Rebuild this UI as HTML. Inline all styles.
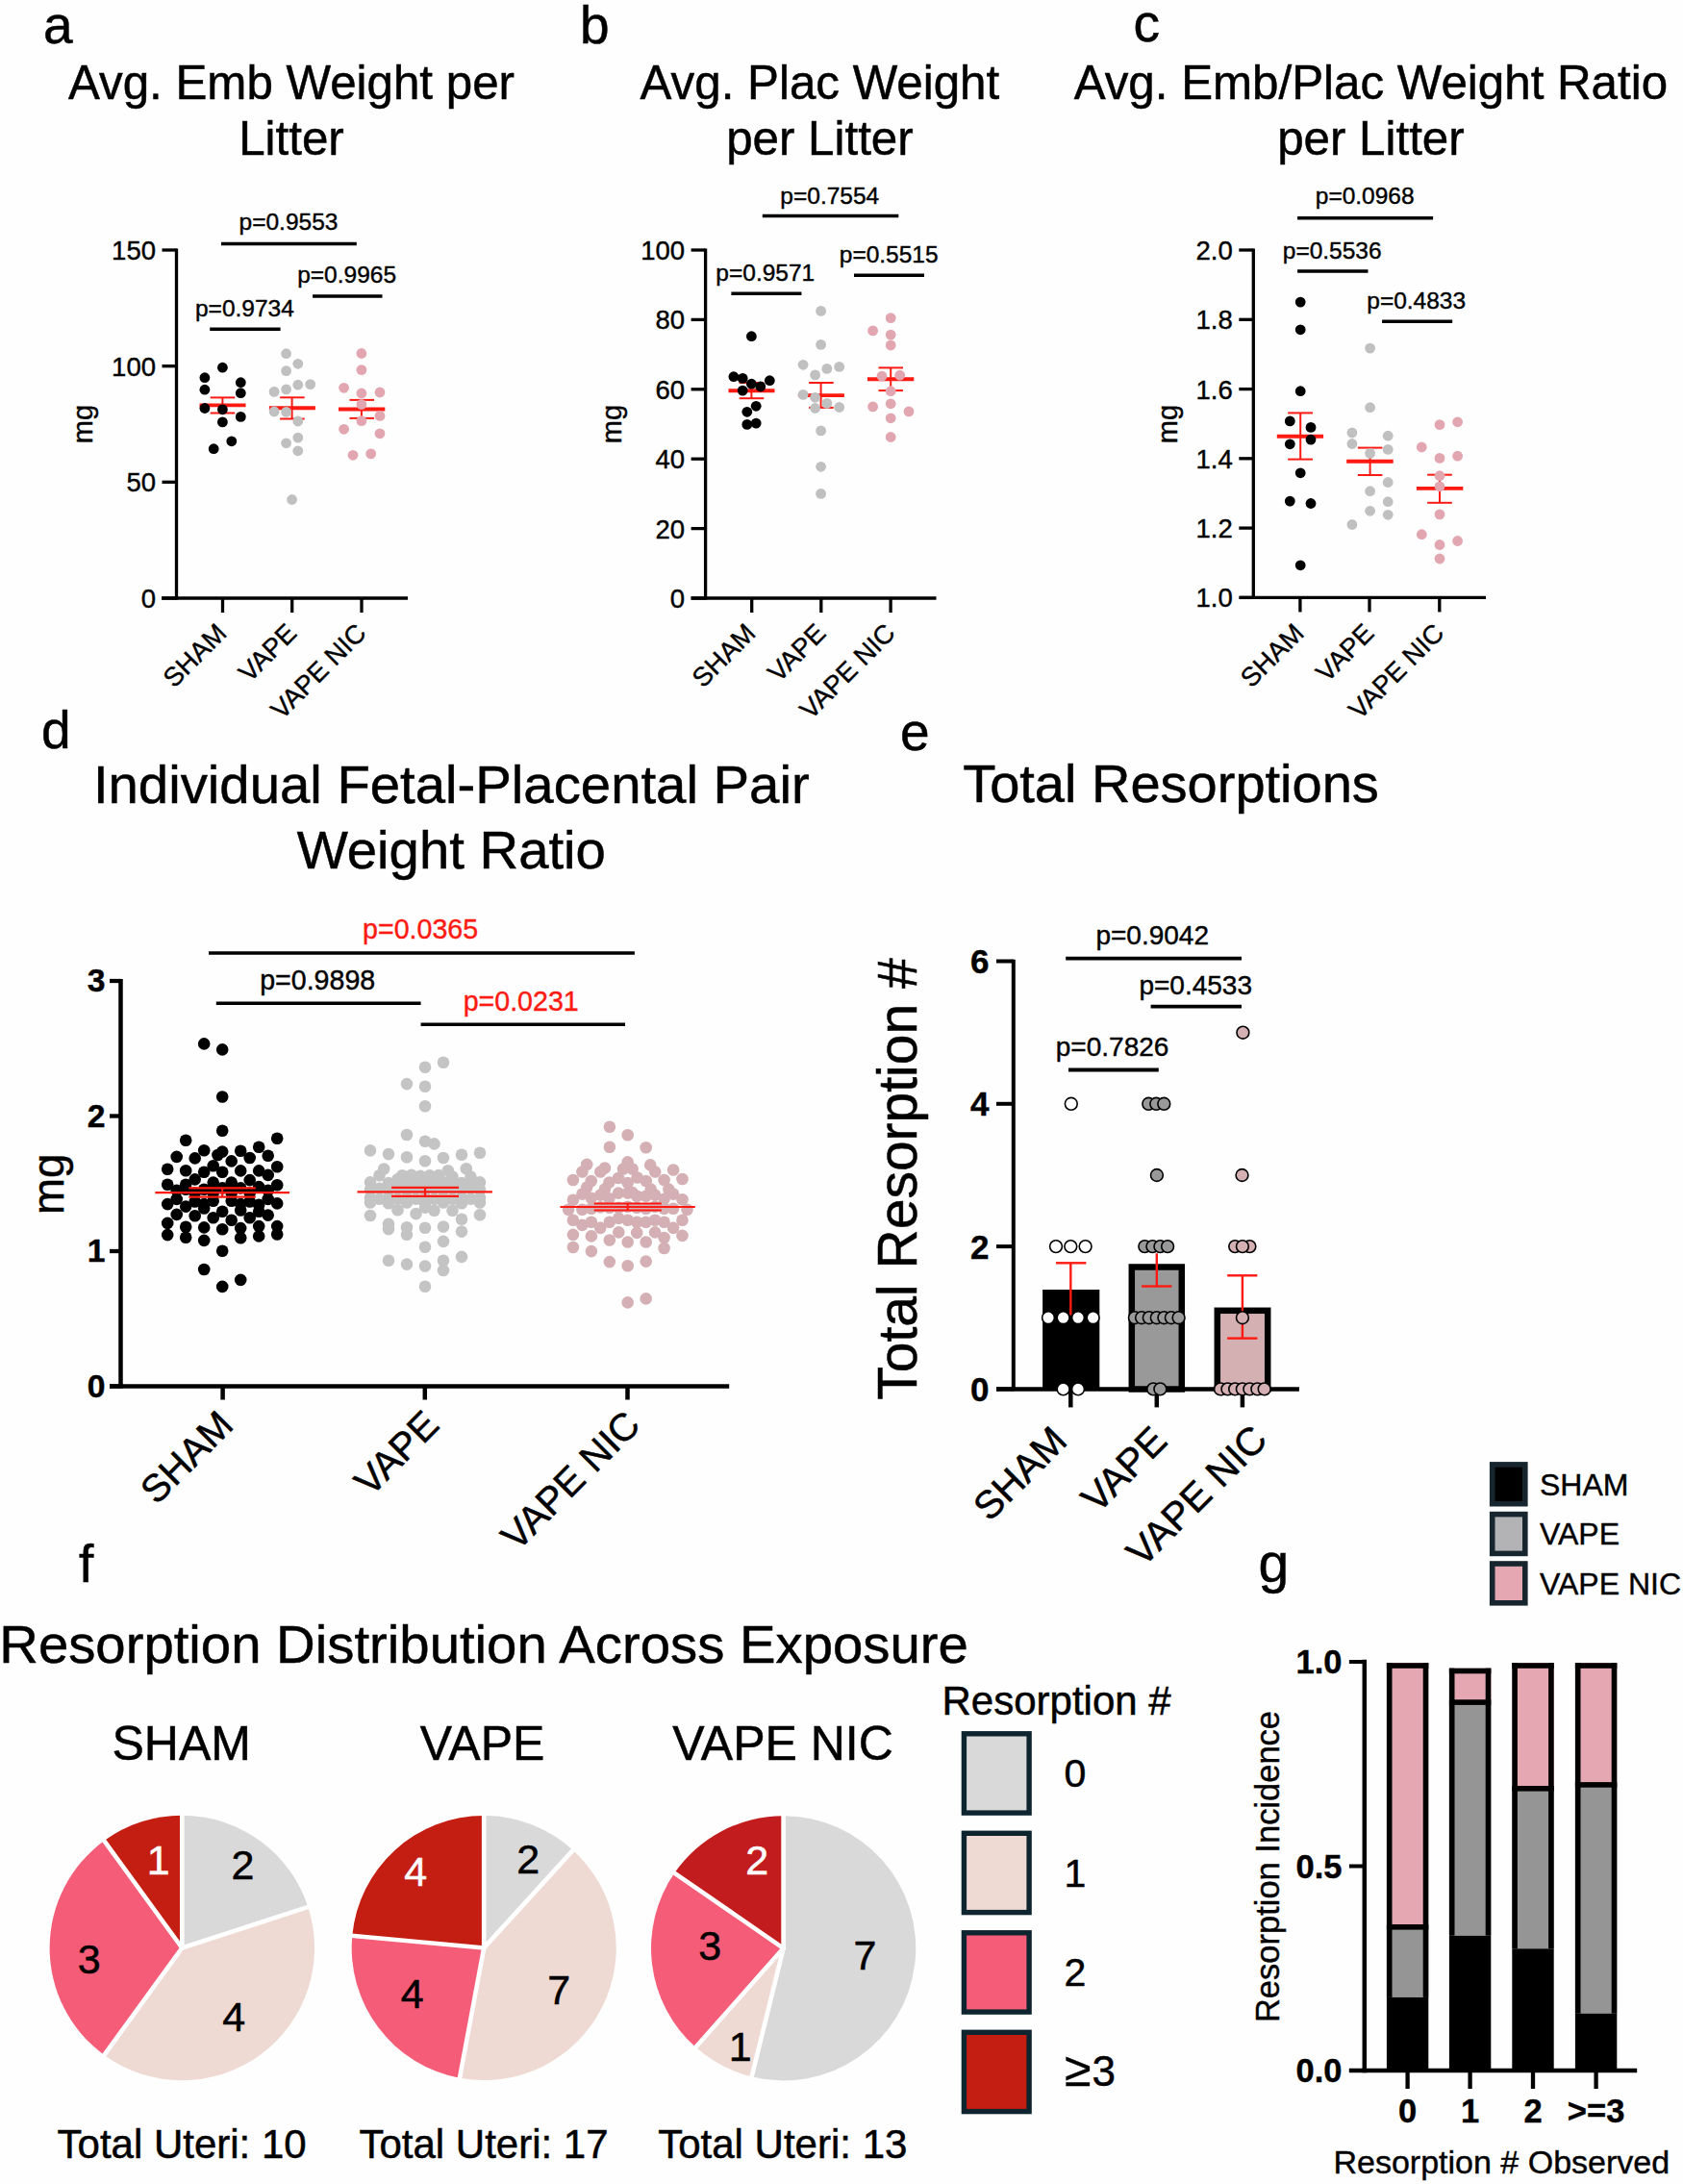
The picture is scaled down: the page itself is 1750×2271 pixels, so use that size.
<!DOCTYPE html>
<html><head><meta charset="utf-8"><title>Figure</title>
<style>
html,body{margin:0;padding:0;background:#fff;}
svg{display:block;}
text{font-family:"Liberation Sans", Arial, sans-serif;}
</style></head>
<body>
<svg width="1750" height="2271" viewBox="0 0 1750 2271">
<rect width="1750" height="2271" fill="#fefefe"/>
<text x="45.0" y="44.6" font-size="55" text-anchor="start" fill="#000" stroke="#000" stroke-width="0.5" >a</text>
<text x="603.0" y="44.6" font-size="55" text-anchor="start" fill="#000" stroke="#000" stroke-width="0.5" >b</text>
<text x="1178.5" y="43.3" font-size="55" text-anchor="start" fill="#000" stroke="#000" stroke-width="0.5" >c</text>
<text x="43.0" y="778.0" font-size="55" text-anchor="start" fill="#000" stroke="#000" stroke-width="0.5" >d</text>
<text x="936.0" y="780.0" font-size="55" text-anchor="start" fill="#000" stroke="#000" stroke-width="0.5" >e</text>
<text x="82.0" y="1645.0" font-size="55" text-anchor="start" fill="#000" stroke="#000" stroke-width="0.5" >f</text>
<text x="1308.5" y="1645.0" font-size="57" text-anchor="start" fill="#000" stroke="#000" stroke-width="0.5" >g</text>
<text x="303.0" y="103.0" font-size="49.3" text-anchor="middle" fill="#000" stroke="#000" stroke-width="0.5" >Avg. Emb Weight per</text>
<text x="303.0" y="161.0" font-size="49.3" text-anchor="middle" fill="#000" stroke="#000" stroke-width="0.5" >Litter</text>
<line x1="183.5" y1="258.4" x2="183.5" y2="623.6" stroke="#000" stroke-width="3.3" stroke-linecap="butt"/>
<line x1="168.0" y1="622.0" x2="424.0" y2="622.0" stroke="#000" stroke-width="3.3" stroke-linecap="butt"/>
<line x1="168.5" y1="260.0" x2="183.5" y2="260.0" stroke="#000" stroke-width="3.3" stroke-linecap="butt"/>
<text x="162.0" y="269.9" font-size="27.5" text-anchor="end" fill="#000" stroke="#000" stroke-width="0.4" >150</text>
<line x1="168.5" y1="380.7" x2="183.5" y2="380.7" stroke="#000" stroke-width="3.3" stroke-linecap="butt"/>
<text x="162.0" y="390.6" font-size="27.5" text-anchor="end" fill="#000" stroke="#000" stroke-width="0.4" >100</text>
<line x1="168.5" y1="501.3" x2="183.5" y2="501.3" stroke="#000" stroke-width="3.3" stroke-linecap="butt"/>
<text x="162.0" y="511.2" font-size="27.5" text-anchor="end" fill="#000" stroke="#000" stroke-width="0.4" >50</text>
<line x1="168.5" y1="622.0" x2="183.5" y2="622.0" stroke="#000" stroke-width="3.3" stroke-linecap="butt"/>
<text x="162.0" y="631.9" font-size="27.5" text-anchor="end" fill="#000" stroke="#000" stroke-width="0.4" >0</text>
<line x1="231.5" y1="622.0" x2="231.5" y2="637.0" stroke="#000" stroke-width="3.3" stroke-linecap="butt"/>
<line x1="303.7" y1="622.0" x2="303.7" y2="637.0" stroke="#000" stroke-width="3.3" stroke-linecap="butt"/>
<line x1="376.0" y1="622.0" x2="376.0" y2="637.0" stroke="#000" stroke-width="3.3" stroke-linecap="butt"/>
<text x="95.6" y="441" font-size="29" text-anchor="middle" stroke="#000" stroke-width="0.4" transform="rotate(-90 95.6 441)">mg</text>
<line x1="207.5" y1="421.4" x2="255.5" y2="421.4" stroke="#fc1a12" stroke-width="3.9" stroke-linecap="butt"/>
<line x1="231.4" y1="413.4" x2="231.4" y2="429.5" stroke="#fc1a12" stroke-width="2.0" stroke-linecap="butt"/>
<line x1="218.7" y1="413.4" x2="244.3" y2="413.4" stroke="#fc1a12" stroke-width="2.0" stroke-linecap="butt"/>
<line x1="218.7" y1="429.5" x2="244.3" y2="429.5" stroke="#fc1a12" stroke-width="2.0" stroke-linecap="butt"/>
<circle cx="231.4" cy="382.2" r="5.4" fill="#000"/>
<circle cx="212.9" cy="392.7" r="5.4" fill="#000"/>
<circle cx="250.3" cy="397.7" r="5.4" fill="#000"/>
<circle cx="212.9" cy="405.2" r="5.4" fill="#000"/>
<circle cx="250.3" cy="408.7" r="5.4" fill="#000"/>
<circle cx="212.9" cy="424.5" r="5.4" fill="#000"/>
<circle cx="231.4" cy="425.8" r="5.4" fill="#000"/>
<circle cx="250.3" cy="433.4" r="5.4" fill="#000"/>
<circle cx="231.4" cy="438.9" r="5.4" fill="#000"/>
<circle cx="240.8" cy="458.8" r="5.4" fill="#000"/>
<circle cx="222.2" cy="466.7" r="5.4" fill="#000"/>
<line x1="279.9" y1="424.3" x2="327.9" y2="424.3" stroke="#fc1a12" stroke-width="3.9" stroke-linecap="butt"/>
<line x1="303.6" y1="413.3" x2="303.6" y2="435.5" stroke="#fc1a12" stroke-width="2.0" stroke-linecap="butt"/>
<line x1="291.1" y1="413.3" x2="316.7" y2="413.3" stroke="#fc1a12" stroke-width="2.0" stroke-linecap="butt"/>
<line x1="291.1" y1="435.5" x2="316.7" y2="435.5" stroke="#fc1a12" stroke-width="2.0" stroke-linecap="butt"/>
<circle cx="297.6" cy="367.7" r="5.4" fill="#c0c0c0"/>
<circle cx="309.8" cy="378.3" r="5.4" fill="#c0c0c0"/>
<circle cx="297.6" cy="385.6" r="5.4" fill="#c0c0c0"/>
<circle cx="309.8" cy="400.2" r="5.4" fill="#c0c0c0"/>
<circle cx="322.7" cy="399.6" r="5.4" fill="#c0c0c0"/>
<circle cx="297.6" cy="404.9" r="5.4" fill="#c0c0c0"/>
<circle cx="285.1" cy="407.4" r="5.4" fill="#c0c0c0"/>
<circle cx="285.1" cy="428.0" r="5.4" fill="#c0c0c0"/>
<circle cx="297.6" cy="428.4" r="5.4" fill="#c0c0c0"/>
<circle cx="309.8" cy="438.0" r="5.4" fill="#c0c0c0"/>
<circle cx="309.8" cy="455.1" r="5.4" fill="#c0c0c0"/>
<circle cx="297.6" cy="460.8" r="5.4" fill="#c0c0c0"/>
<circle cx="309.8" cy="468.8" r="5.4" fill="#c0c0c0"/>
<circle cx="303.6" cy="519.5" r="5.4" fill="#c0c0c0"/>
<line x1="352.0" y1="425.5" x2="400.3" y2="425.5" stroke="#fc1a12" stroke-width="3.9" stroke-linecap="butt"/>
<line x1="375.9" y1="415.9" x2="375.9" y2="434.9" stroke="#fc1a12" stroke-width="2.0" stroke-linecap="butt"/>
<line x1="363.5" y1="415.9" x2="389.0" y2="415.9" stroke="#fc1a12" stroke-width="2.0" stroke-linecap="butt"/>
<line x1="363.5" y1="434.9" x2="389.0" y2="434.9" stroke="#fc1a12" stroke-width="2.0" stroke-linecap="butt"/>
<circle cx="375.9" cy="367.5" r="5.4" fill="#e2a6b1"/>
<circle cx="375.9" cy="384.6" r="5.4" fill="#e2a6b1"/>
<circle cx="357.6" cy="403.3" r="5.4" fill="#e2a6b1"/>
<circle cx="375.9" cy="409.0" r="5.4" fill="#e2a6b1"/>
<circle cx="395.0" cy="408.0" r="5.4" fill="#e2a6b1"/>
<circle cx="375.9" cy="420.5" r="5.4" fill="#e2a6b1"/>
<circle cx="395.0" cy="432.4" r="5.4" fill="#e2a6b1"/>
<circle cx="375.9" cy="437.6" r="5.4" fill="#e2a6b1"/>
<circle cx="357.6" cy="446.3" r="5.4" fill="#e2a6b1"/>
<circle cx="395.0" cy="450.8" r="5.4" fill="#e2a6b1"/>
<circle cx="367.0" cy="473.3" r="5.4" fill="#e2a6b1"/>
<circle cx="385.7" cy="471.9" r="5.4" fill="#e2a6b1"/>
<text x="300.0" y="238.9" font-size="24.5" text-anchor="middle" fill="#000" stroke="#000" stroke-width="0.4" >p=0.9553</text>
<line x1="230.0" y1="253.5" x2="370.8" y2="253.5" stroke="#000" stroke-width="3.5" stroke-linecap="butt"/>
<text x="360.6" y="294.0" font-size="24.5" text-anchor="middle" fill="#000" stroke="#000" stroke-width="0.4" >p=0.9965</text>
<line x1="325.1" y1="308.0" x2="397.5" y2="308.0" stroke="#000" stroke-width="3.5" stroke-linecap="butt"/>
<text x="254.4" y="328.7" font-size="24.5" text-anchor="middle" fill="#000" stroke="#000" stroke-width="0.4" >p=0.9734</text>
<line x1="218.2" y1="342.2" x2="291.6" y2="342.2" stroke="#000" stroke-width="3.5" stroke-linecap="butt"/>
<text x="237.1" y="660.0" font-size="27.5" text-anchor="end" stroke="#000" stroke-width="0.4" transform="rotate(-45 237.1 660.0)">SHAM</text>
<text x="310.0" y="660.0" font-size="27.5" text-anchor="end" stroke="#000" stroke-width="0.4" transform="rotate(-45 310.0 660.0)">VAPE</text>
<text x="382.3" y="660.0" font-size="27.5" text-anchor="end" stroke="#000" stroke-width="0.4" transform="rotate(-45 382.3 660.0)">VAPE NIC</text>
<text x="852.4" y="103.0" font-size="49.3" text-anchor="middle" fill="#000" stroke="#000" stroke-width="0.5" >Avg. Plac Weight</text>
<text x="852.4" y="161.0" font-size="49.3" text-anchor="middle" fill="#000" stroke="#000" stroke-width="0.5" >per Litter</text>
<line x1="733.6" y1="258.4" x2="733.6" y2="623.6" stroke="#000" stroke-width="3.3" stroke-linecap="butt"/>
<line x1="718.6" y1="622.0" x2="973.5" y2="622.0" stroke="#000" stroke-width="3.3" stroke-linecap="butt"/>
<line x1="718.6" y1="260.0" x2="733.6" y2="260.0" stroke="#000" stroke-width="3.3" stroke-linecap="butt"/>
<text x="712.1" y="269.9" font-size="27.5" text-anchor="end" fill="#000" stroke="#000" stroke-width="0.4" >100</text>
<line x1="718.6" y1="332.4" x2="733.6" y2="332.4" stroke="#000" stroke-width="3.3" stroke-linecap="butt"/>
<text x="712.1" y="342.2" font-size="27.5" text-anchor="end" fill="#000" stroke="#000" stroke-width="0.4" >80</text>
<line x1="718.6" y1="404.8" x2="733.6" y2="404.8" stroke="#000" stroke-width="3.3" stroke-linecap="butt"/>
<text x="712.1" y="414.7" font-size="27.5" text-anchor="end" fill="#000" stroke="#000" stroke-width="0.4" >60</text>
<line x1="718.6" y1="477.2" x2="733.6" y2="477.2" stroke="#000" stroke-width="3.3" stroke-linecap="butt"/>
<text x="712.1" y="487.1" font-size="27.5" text-anchor="end" fill="#000" stroke="#000" stroke-width="0.4" >40</text>
<line x1="718.6" y1="549.6" x2="733.6" y2="549.6" stroke="#000" stroke-width="3.3" stroke-linecap="butt"/>
<text x="712.1" y="559.5" font-size="27.5" text-anchor="end" fill="#000" stroke="#000" stroke-width="0.4" >20</text>
<line x1="718.6" y1="622.0" x2="733.6" y2="622.0" stroke="#000" stroke-width="3.3" stroke-linecap="butt"/>
<text x="712.1" y="631.9" font-size="27.5" text-anchor="end" fill="#000" stroke="#000" stroke-width="0.4" >0</text>
<line x1="781.7" y1="622.0" x2="781.7" y2="637.0" stroke="#000" stroke-width="3.3" stroke-linecap="butt"/>
<line x1="853.8" y1="622.0" x2="853.8" y2="637.0" stroke="#000" stroke-width="3.3" stroke-linecap="butt"/>
<line x1="926.1" y1="622.0" x2="926.1" y2="637.0" stroke="#000" stroke-width="3.3" stroke-linecap="butt"/>
<text x="646.0" y="441" font-size="29" text-anchor="middle" stroke="#000" stroke-width="0.4" transform="rotate(-90 646.0 441)">mg</text>
<line x1="757.5" y1="406.3" x2="805.5" y2="406.3" stroke="#fc1a12" stroke-width="3.9" stroke-linecap="butt"/>
<line x1="781.4" y1="398.0" x2="781.4" y2="414.2" stroke="#fc1a12" stroke-width="2.0" stroke-linecap="butt"/>
<line x1="768.7" y1="398.0" x2="794.3" y2="398.0" stroke="#fc1a12" stroke-width="2.0" stroke-linecap="butt"/>
<line x1="768.7" y1="414.2" x2="794.3" y2="414.2" stroke="#fc1a12" stroke-width="2.0" stroke-linecap="butt"/>
<circle cx="781.4" cy="349.7" r="5.4" fill="#000"/>
<circle cx="762.9" cy="391.7" r="5.4" fill="#000"/>
<circle cx="772.2" cy="393.4" r="5.4" fill="#000"/>
<circle cx="781.4" cy="399.2" r="5.4" fill="#000"/>
<circle cx="790.8" cy="402.0" r="5.4" fill="#000"/>
<circle cx="800.3" cy="395.7" r="5.4" fill="#000"/>
<circle cx="772.2" cy="406.1" r="5.4" fill="#000"/>
<circle cx="786.2" cy="422.3" r="5.4" fill="#000"/>
<circle cx="776.8" cy="428.3" r="5.4" fill="#000"/>
<circle cx="776.8" cy="441.4" r="5.4" fill="#000"/>
<circle cx="786.2" cy="440.1" r="5.4" fill="#000"/>
<line x1="829.9" y1="411.1" x2="877.9" y2="411.1" stroke="#fc1a12" stroke-width="3.9" stroke-linecap="butt"/>
<line x1="853.6" y1="398.0" x2="853.6" y2="423.9" stroke="#fc1a12" stroke-width="2.0" stroke-linecap="butt"/>
<line x1="841.1" y1="398.0" x2="866.7" y2="398.0" stroke="#fc1a12" stroke-width="2.0" stroke-linecap="butt"/>
<line x1="841.1" y1="423.9" x2="866.7" y2="423.9" stroke="#fc1a12" stroke-width="2.0" stroke-linecap="butt"/>
<circle cx="853.6" cy="323.4" r="5.4" fill="#c0c0c0"/>
<circle cx="853.6" cy="358.4" r="5.4" fill="#c0c0c0"/>
<circle cx="835.1" cy="379.3" r="5.4" fill="#c0c0c0"/>
<circle cx="859.8" cy="383.4" r="5.4" fill="#c0c0c0"/>
<circle cx="872.7" cy="381.4" r="5.4" fill="#c0c0c0"/>
<circle cx="847.6" cy="389.9" r="5.4" fill="#c0c0c0"/>
<circle cx="835.1" cy="410.4" r="5.4" fill="#c0c0c0"/>
<circle cx="847.6" cy="413.3" r="5.4" fill="#c0c0c0"/>
<circle cx="859.8" cy="419.4" r="5.4" fill="#c0c0c0"/>
<circle cx="847.6" cy="424.5" r="5.4" fill="#c0c0c0"/>
<circle cx="872.7" cy="423.5" r="5.4" fill="#c0c0c0"/>
<circle cx="853.6" cy="447.9" r="5.4" fill="#c0c0c0"/>
<circle cx="853.6" cy="485.3" r="5.4" fill="#c0c0c0"/>
<circle cx="853.6" cy="513.4" r="5.4" fill="#c0c0c0"/>
<line x1="902.0" y1="394.2" x2="950.3" y2="394.2" stroke="#fc1a12" stroke-width="3.9" stroke-linecap="butt"/>
<line x1="926.2" y1="382.4" x2="926.2" y2="406.1" stroke="#fc1a12" stroke-width="2.0" stroke-linecap="butt"/>
<line x1="913.5" y1="382.4" x2="939.0" y2="382.4" stroke="#fc1a12" stroke-width="2.0" stroke-linecap="butt"/>
<line x1="913.5" y1="406.1" x2="939.0" y2="406.1" stroke="#fc1a12" stroke-width="2.0" stroke-linecap="butt"/>
<circle cx="926.2" cy="330.6" r="5.4" fill="#e2a6b1"/>
<circle cx="907.6" cy="343.9" r="5.4" fill="#e2a6b1"/>
<circle cx="926.2" cy="348.1" r="5.4" fill="#e2a6b1"/>
<circle cx="926.2" cy="359.0" r="5.4" fill="#e2a6b1"/>
<circle cx="917.0" cy="391.1" r="5.4" fill="#e2a6b1"/>
<circle cx="935.7" cy="390.2" r="5.4" fill="#e2a6b1"/>
<circle cx="926.2" cy="406.7" r="5.4" fill="#e2a6b1"/>
<circle cx="926.2" cy="419.8" r="5.4" fill="#e2a6b1"/>
<circle cx="907.6" cy="422.9" r="5.4" fill="#e2a6b1"/>
<circle cx="945.0" cy="427.9" r="5.4" fill="#e2a6b1"/>
<circle cx="926.2" cy="434.8" r="5.4" fill="#e2a6b1"/>
<circle cx="926.2" cy="454.5" r="5.4" fill="#e2a6b1"/>
<text x="862.8" y="212.1" font-size="24.5" text-anchor="middle" fill="#000" stroke="#000" stroke-width="0.4" >p=0.7554</text>
<line x1="792.8" y1="224.6" x2="934.3" y2="224.6" stroke="#000" stroke-width="3.5" stroke-linecap="butt"/>
<text x="795.8" y="292.3" font-size="24.5" text-anchor="middle" fill="#000" stroke="#000" stroke-width="0.4" >p=0.9571</text>
<line x1="760.4" y1="305.2" x2="833.4" y2="305.2" stroke="#000" stroke-width="3.5" stroke-linecap="butt"/>
<text x="924.2" y="272.7" font-size="24.5" text-anchor="middle" fill="#000" stroke="#000" stroke-width="0.4" >p=0.5515</text>
<line x1="888.0" y1="286.3" x2="961.0" y2="286.3" stroke="#000" stroke-width="3.5" stroke-linecap="butt"/>
<text x="787.3" y="660.0" font-size="27.5" text-anchor="end" stroke="#000" stroke-width="0.4" transform="rotate(-45 787.3 660.0)">SHAM</text>
<text x="860.1" y="660.0" font-size="27.5" text-anchor="end" stroke="#000" stroke-width="0.4" transform="rotate(-45 860.1 660.0)">VAPE</text>
<text x="932.4" y="660.0" font-size="27.5" text-anchor="end" stroke="#000" stroke-width="0.4" transform="rotate(-45 932.4 660.0)">VAPE NIC</text>
<text x="1425.4" y="103.0" font-size="49.3" text-anchor="middle" fill="#000" stroke="#000" stroke-width="0.5" >Avg. Emb/Plac Weight Ratio</text>
<text x="1425.4" y="161.0" font-size="49.3" text-anchor="middle" fill="#000" stroke="#000" stroke-width="0.5" >per Litter</text>
<line x1="1303.3" y1="258.4" x2="1303.3" y2="623.0" stroke="#000" stroke-width="3.3" stroke-linecap="butt"/>
<line x1="1289.0" y1="621.4" x2="1545.0" y2="621.4" stroke="#000" stroke-width="3.3" stroke-linecap="butt"/>
<line x1="1288.3" y1="260.0" x2="1303.3" y2="260.0" stroke="#000" stroke-width="3.3" stroke-linecap="butt"/>
<text x="1281.8" y="269.9" font-size="27.5" text-anchor="end" fill="#000" stroke="#000" stroke-width="0.4" >2.0</text>
<line x1="1288.3" y1="332.3" x2="1303.3" y2="332.3" stroke="#000" stroke-width="3.3" stroke-linecap="butt"/>
<text x="1281.8" y="342.2" font-size="27.5" text-anchor="end" fill="#000" stroke="#000" stroke-width="0.4" >1.8</text>
<line x1="1288.3" y1="404.6" x2="1303.3" y2="404.6" stroke="#000" stroke-width="3.3" stroke-linecap="butt"/>
<text x="1281.8" y="414.5" font-size="27.5" text-anchor="end" fill="#000" stroke="#000" stroke-width="0.4" >1.6</text>
<line x1="1288.3" y1="476.8" x2="1303.3" y2="476.8" stroke="#000" stroke-width="3.3" stroke-linecap="butt"/>
<text x="1281.8" y="486.7" font-size="27.5" text-anchor="end" fill="#000" stroke="#000" stroke-width="0.4" >1.4</text>
<line x1="1288.3" y1="549.1" x2="1303.3" y2="549.1" stroke="#000" stroke-width="3.3" stroke-linecap="butt"/>
<text x="1281.8" y="559.0" font-size="27.5" text-anchor="end" fill="#000" stroke="#000" stroke-width="0.4" >1.2</text>
<line x1="1288.3" y1="621.4" x2="1303.3" y2="621.4" stroke="#000" stroke-width="3.3" stroke-linecap="butt"/>
<text x="1281.8" y="631.2" font-size="27.5" text-anchor="end" fill="#000" stroke="#000" stroke-width="0.4" >1.0</text>
<line x1="1351.9" y1="621.4" x2="1351.9" y2="636.4" stroke="#000" stroke-width="3.3" stroke-linecap="butt"/>
<line x1="1424.0" y1="621.4" x2="1424.0" y2="636.4" stroke="#000" stroke-width="3.3" stroke-linecap="butt"/>
<line x1="1496.8" y1="621.4" x2="1496.8" y2="636.4" stroke="#000" stroke-width="3.3" stroke-linecap="butt"/>
<text x="1223.5" y="441" font-size="29" text-anchor="middle" stroke="#000" stroke-width="0.4" transform="rotate(-90 1223.5 441)">mg</text>
<line x1="1327.8" y1="453.7" x2="1376.1" y2="453.7" stroke="#fc1a12" stroke-width="3.9" stroke-linecap="butt"/>
<line x1="1352.2" y1="429.4" x2="1352.2" y2="477.6" stroke="#fc1a12" stroke-width="2.0" stroke-linecap="butt"/>
<line x1="1339.2" y1="429.4" x2="1365.0" y2="429.4" stroke="#fc1a12" stroke-width="2.0" stroke-linecap="butt"/>
<line x1="1339.2" y1="477.6" x2="1365.0" y2="477.6" stroke="#fc1a12" stroke-width="2.0" stroke-linecap="butt"/>
<circle cx="1352.2" cy="314.1" r="5.4" fill="#000"/>
<circle cx="1352.2" cy="342.8" r="5.4" fill="#000"/>
<circle cx="1352.2" cy="406.7" r="5.4" fill="#000"/>
<circle cx="1341.3" cy="437.9" r="5.4" fill="#000"/>
<circle cx="1363.0" cy="444.4" r="5.4" fill="#000"/>
<circle cx="1341.3" cy="461.8" r="5.4" fill="#000"/>
<circle cx="1363.0" cy="457.1" r="5.4" fill="#000"/>
<circle cx="1352.2" cy="491.8" r="5.4" fill="#000"/>
<circle cx="1341.3" cy="521.1" r="5.4" fill="#000"/>
<circle cx="1363.0" cy="523.5" r="5.4" fill="#000"/>
<circle cx="1352.2" cy="587.8" r="5.4" fill="#000"/>
<line x1="1400.2" y1="479.8" x2="1448.7" y2="479.8" stroke="#fc1a12" stroke-width="3.9" stroke-linecap="butt"/>
<line x1="1424.6" y1="465.6" x2="1424.6" y2="494.0" stroke="#fc1a12" stroke-width="2.0" stroke-linecap="butt"/>
<line x1="1411.8" y1="465.6" x2="1437.4" y2="465.6" stroke="#fc1a12" stroke-width="2.0" stroke-linecap="butt"/>
<line x1="1411.8" y1="494.0" x2="1437.4" y2="494.0" stroke="#fc1a12" stroke-width="2.0" stroke-linecap="butt"/>
<circle cx="1424.6" cy="362.1" r="5.4" fill="#c0c0c0"/>
<circle cx="1424.6" cy="423.7" r="5.4" fill="#c0c0c0"/>
<circle cx="1405.9" cy="450.0" r="5.4" fill="#c0c0c0"/>
<circle cx="1443.2" cy="453.2" r="5.4" fill="#c0c0c0"/>
<circle cx="1405.9" cy="461.5" r="5.4" fill="#c0c0c0"/>
<circle cx="1443.2" cy="467.4" r="5.4" fill="#c0c0c0"/>
<circle cx="1424.6" cy="471.4" r="5.4" fill="#c0c0c0"/>
<circle cx="1443.2" cy="501.5" r="5.4" fill="#c0c0c0"/>
<circle cx="1424.6" cy="510.7" r="5.4" fill="#c0c0c0"/>
<circle cx="1443.2" cy="521.7" r="5.4" fill="#c0c0c0"/>
<circle cx="1424.6" cy="531.3" r="5.4" fill="#c0c0c0"/>
<circle cx="1443.2" cy="535.3" r="5.4" fill="#c0c0c0"/>
<circle cx="1405.9" cy="545.5" r="5.4" fill="#c0c0c0"/>
<line x1="1472.9" y1="507.9" x2="1521.3" y2="507.9" stroke="#fc1a12" stroke-width="3.9" stroke-linecap="butt"/>
<line x1="1497.0" y1="493.7" x2="1497.0" y2="522.8" stroke="#fc1a12" stroke-width="2.0" stroke-linecap="butt"/>
<line x1="1484.2" y1="493.7" x2="1509.8" y2="493.7" stroke="#fc1a12" stroke-width="2.0" stroke-linecap="butt"/>
<line x1="1484.2" y1="522.8" x2="1509.8" y2="522.8" stroke="#fc1a12" stroke-width="2.0" stroke-linecap="butt"/>
<circle cx="1497.0" cy="441.6" r="5.4" fill="#e2a6b1"/>
<circle cx="1515.6" cy="438.8" r="5.4" fill="#e2a6b1"/>
<circle cx="1478.3" cy="465.0" r="5.4" fill="#e2a6b1"/>
<circle cx="1497.0" cy="476.4" r="5.4" fill="#e2a6b1"/>
<circle cx="1515.6" cy="474.2" r="5.4" fill="#e2a6b1"/>
<circle cx="1497.0" cy="494.7" r="5.4" fill="#e2a6b1"/>
<circle cx="1497.0" cy="505.8" r="5.4" fill="#e2a6b1"/>
<circle cx="1497.0" cy="534.9" r="5.4" fill="#e2a6b1"/>
<circle cx="1478.3" cy="555.7" r="5.4" fill="#e2a6b1"/>
<circle cx="1497.0" cy="566.5" r="5.4" fill="#e2a6b1"/>
<circle cx="1515.6" cy="562.5" r="5.4" fill="#e2a6b1"/>
<circle cx="1497.0" cy="581.0" r="5.4" fill="#e2a6b1"/>
<text x="1419.2" y="211.7" font-size="24.5" text-anchor="middle" fill="#000" stroke="#000" stroke-width="0.4" >p=0.0968</text>
<line x1="1349.1" y1="226.7" x2="1490.1" y2="226.7" stroke="#000" stroke-width="3.5" stroke-linecap="butt"/>
<text x="1385.2" y="269.2" font-size="24.5" text-anchor="middle" fill="#000" stroke="#000" stroke-width="0.4" >p=0.5536</text>
<line x1="1349.1" y1="282.0" x2="1422.5" y2="282.0" stroke="#000" stroke-width="3.5" stroke-linecap="butt"/>
<text x="1472.7" y="320.6" font-size="24.5" text-anchor="middle" fill="#000" stroke="#000" stroke-width="0.4" >p=0.4833</text>
<line x1="1437.1" y1="334.3" x2="1510.2" y2="334.3" stroke="#000" stroke-width="3.5" stroke-linecap="butt"/>
<text x="1357.5" y="660.0" font-size="27.5" text-anchor="end" stroke="#000" stroke-width="0.4" transform="rotate(-45 1357.5 660.0)">SHAM</text>
<text x="1430.3" y="660.0" font-size="27.5" text-anchor="end" stroke="#000" stroke-width="0.4" transform="rotate(-45 1430.3 660.0)">VAPE</text>
<text x="1503.1" y="660.0" font-size="27.5" text-anchor="end" stroke="#000" stroke-width="0.4" transform="rotate(-45 1503.1 660.0)">VAPE NIC</text>
<text x="469.3" y="835.2" font-size="56.3" text-anchor="middle" fill="#000" stroke="#000" stroke-width="0.5" >Individual Fetal-Placental Pair</text>
<text x="469.3" y="903.1" font-size="56.3" text-anchor="middle" fill="#000" stroke="#000" stroke-width="0.5" >Weight Ratio</text>
<line x1="125.5" y1="1017.9" x2="125.5" y2="1443.6" stroke="#000" stroke-width="4.5" stroke-linecap="butt"/>
<line x1="114.0" y1="1441.5" x2="758.2" y2="1441.5" stroke="#000" stroke-width="4.5" stroke-linecap="butt"/>
<line x1="114.0" y1="1441.5" x2="125.5" y2="1441.5" stroke="#000" stroke-width="4.3" stroke-linecap="butt"/>
<text x="109.5" y="1452.8" font-size="33.7" text-anchor="end" font-weight="bold" fill="#000" stroke="#000" stroke-width="0.4" >0</text>
<line x1="114.0" y1="1301.0" x2="125.5" y2="1301.0" stroke="#000" stroke-width="4.3" stroke-linecap="butt"/>
<text x="109.5" y="1312.3" font-size="33.7" text-anchor="end" font-weight="bold" fill="#000" stroke="#000" stroke-width="0.4" >1</text>
<line x1="114.0" y1="1160.5" x2="125.5" y2="1160.5" stroke="#000" stroke-width="4.3" stroke-linecap="butt"/>
<text x="109.5" y="1171.8" font-size="33.7" text-anchor="end" font-weight="bold" fill="#000" stroke="#000" stroke-width="0.4" >2</text>
<line x1="114.0" y1="1020.0" x2="125.5" y2="1020.0" stroke="#000" stroke-width="4.3" stroke-linecap="butt"/>
<text x="109.5" y="1031.3" font-size="33.7" text-anchor="end" font-weight="bold" fill="#000" stroke="#000" stroke-width="0.4" >3</text>
<line x1="231.6" y1="1441.5" x2="231.6" y2="1455.5" stroke="#000" stroke-width="4.5" stroke-linecap="butt"/>
<line x1="441.8" y1="1441.5" x2="441.8" y2="1455.5" stroke="#000" stroke-width="4.5" stroke-linecap="butt"/>
<line x1="652.5" y1="1441.5" x2="652.5" y2="1455.5" stroke="#000" stroke-width="4.5" stroke-linecap="butt"/>
<text x="66.5" y="1231.4" font-size="45.5" text-anchor="middle" stroke="#000" stroke-width="0.5" transform="rotate(-90 66.5 1231.4)">mg</text>
<circle cx="212.2" cy="1085.4" r="6.3" fill="#000"/>
<circle cx="231.2" cy="1091.4" r="6.3" fill="#000"/>
<circle cx="231.2" cy="1140.5" r="6.3" fill="#000"/>
<circle cx="231.2" cy="1175.8" r="6.3" fill="#000"/>
<circle cx="193.2" cy="1185.8" r="6.3" fill="#000"/>
<circle cx="288.2" cy="1183.7" r="6.3" fill="#000"/>
<circle cx="212.2" cy="1196.3" r="6.3" fill="#000"/>
<circle cx="269.2" cy="1192.7" r="6.3" fill="#000"/>
<circle cx="231.2" cy="1197.6" r="6.3" fill="#000"/>
<circle cx="226.4" cy="1201.0" r="6.3" fill="#000"/>
<circle cx="250.2" cy="1196.7" r="6.3" fill="#000"/>
<circle cx="183.7" cy="1202.9" r="6.3" fill="#000"/>
<circle cx="202.7" cy="1204.4" r="6.3" fill="#000"/>
<circle cx="259.7" cy="1204.0" r="6.3" fill="#000"/>
<circle cx="278.7" cy="1201.7" r="6.3" fill="#000"/>
<circle cx="240.7" cy="1207.4" r="6.3" fill="#000"/>
<circle cx="221.7" cy="1212.3" r="6.3" fill="#000"/>
<circle cx="174.2" cy="1215.8" r="6.3" fill="#000"/>
<circle cx="193.2" cy="1217.2" r="6.3" fill="#000"/>
<circle cx="212.2" cy="1218.7" r="6.3" fill="#000"/>
<circle cx="231.2" cy="1218.7" r="6.3" fill="#000"/>
<circle cx="250.2" cy="1217.4" r="6.3" fill="#000"/>
<circle cx="269.2" cy="1217.4" r="6.3" fill="#000"/>
<circle cx="278.7" cy="1221.9" r="6.3" fill="#000"/>
<circle cx="288.2" cy="1213.3" r="6.3" fill="#000"/>
<circle cx="202.7" cy="1226.4" r="6.3" fill="#000"/>
<circle cx="259.7" cy="1227.1" r="6.3" fill="#000"/>
<circle cx="221.7" cy="1229.6" r="6.3" fill="#000"/>
<circle cx="240.7" cy="1229.6" r="6.3" fill="#000"/>
<circle cx="174.2" cy="1231.8" r="6.3" fill="#000"/>
<circle cx="193.2" cy="1231.8" r="6.3" fill="#000"/>
<circle cx="288.2" cy="1232.2" r="6.3" fill="#000"/>
<circle cx="183.7" cy="1237.9" r="6.3" fill="#000"/>
<circle cx="212.2" cy="1236.7" r="6.3" fill="#000"/>
<circle cx="231.2" cy="1235.4" r="6.3" fill="#000"/>
<circle cx="250.2" cy="1235.4" r="6.3" fill="#000"/>
<circle cx="269.2" cy="1234.1" r="6.3" fill="#000"/>
<circle cx="278.7" cy="1237.9" r="6.3" fill="#000"/>
<circle cx="193.2" cy="1236.7" r="6.3" fill="#000"/>
<circle cx="202.7" cy="1240.5" r="6.3" fill="#000"/>
<circle cx="259.7" cy="1240.5" r="6.3" fill="#000"/>
<circle cx="240.7" cy="1240.5" r="6.3" fill="#000"/>
<circle cx="221.7" cy="1240.5" r="6.3" fill="#000"/>
<circle cx="174.2" cy="1252.1" r="6.3" fill="#000"/>
<circle cx="183.7" cy="1246.9" r="6.3" fill="#000"/>
<circle cx="193.2" cy="1254.6" r="6.3" fill="#000"/>
<circle cx="202.7" cy="1249.5" r="6.3" fill="#000"/>
<circle cx="212.2" cy="1252.1" r="6.3" fill="#000"/>
<circle cx="221.7" cy="1248.8" r="6.3" fill="#000"/>
<circle cx="240.7" cy="1248.8" r="6.3" fill="#000"/>
<circle cx="250.2" cy="1252.1" r="6.3" fill="#000"/>
<circle cx="259.7" cy="1249.5" r="6.3" fill="#000"/>
<circle cx="269.2" cy="1252.7" r="6.3" fill="#000"/>
<circle cx="288.2" cy="1251.4" r="6.3" fill="#000"/>
<circle cx="278.7" cy="1246.9" r="6.3" fill="#000"/>
<circle cx="183.7" cy="1262.9" r="6.3" fill="#000"/>
<circle cx="202.7" cy="1264.2" r="6.3" fill="#000"/>
<circle cx="212.2" cy="1256.5" r="6.3" fill="#000"/>
<circle cx="221.7" cy="1266.2" r="6.3" fill="#000"/>
<circle cx="231.2" cy="1259.7" r="6.3" fill="#000"/>
<circle cx="240.7" cy="1268.7" r="6.3" fill="#000"/>
<circle cx="259.7" cy="1266.2" r="6.3" fill="#000"/>
<circle cx="278.7" cy="1263.6" r="6.3" fill="#000"/>
<circle cx="250.2" cy="1258.5" r="6.3" fill="#000"/>
<circle cx="269.2" cy="1259.7" r="6.3" fill="#000"/>
<circle cx="174.2" cy="1271.9" r="6.3" fill="#000"/>
<circle cx="193.2" cy="1275.8" r="6.3" fill="#000"/>
<circle cx="212.2" cy="1276.4" r="6.3" fill="#000"/>
<circle cx="231.2" cy="1278.3" r="6.3" fill="#000"/>
<circle cx="250.2" cy="1277.1" r="6.3" fill="#000"/>
<circle cx="269.2" cy="1275.1" r="6.3" fill="#000"/>
<circle cx="288.2" cy="1275.1" r="6.3" fill="#000"/>
<circle cx="174.2" cy="1284.1" r="6.3" fill="#000"/>
<circle cx="193.2" cy="1286.7" r="6.3" fill="#000"/>
<circle cx="212.2" cy="1289.9" r="6.3" fill="#000"/>
<circle cx="250.2" cy="1287.3" r="6.3" fill="#000"/>
<circle cx="269.2" cy="1285.4" r="6.3" fill="#000"/>
<circle cx="288.2" cy="1283.5" r="6.3" fill="#000"/>
<circle cx="231.2" cy="1300.8" r="6.3" fill="#000"/>
<circle cx="212.2" cy="1320.0" r="6.3" fill="#000"/>
<circle cx="250.2" cy="1330.9" r="6.3" fill="#000"/>
<circle cx="231.2" cy="1337.9" r="6.3" fill="#000"/>
<circle cx="442.0" cy="1109.7" r="6.3" fill="#c4c4c4"/>
<circle cx="461.0" cy="1104.7" r="6.3" fill="#c4c4c4"/>
<circle cx="423.0" cy="1127.1" r="6.3" fill="#c4c4c4"/>
<circle cx="442.0" cy="1129.7" r="6.3" fill="#c4c4c4"/>
<circle cx="442.0" cy="1150.3" r="6.3" fill="#c4c4c4"/>
<circle cx="423.0" cy="1180.0" r="6.3" fill="#c4c4c4"/>
<circle cx="442.0" cy="1186.8" r="6.3" fill="#c4c4c4"/>
<circle cx="451.5" cy="1189.4" r="6.3" fill="#c4c4c4"/>
<circle cx="385.0" cy="1196.4" r="6.3" fill="#c4c4c4"/>
<circle cx="404.0" cy="1200.1" r="6.3" fill="#c4c4c4"/>
<circle cx="423.0" cy="1203.3" r="6.3" fill="#c4c4c4"/>
<circle cx="442.0" cy="1207.2" r="6.3" fill="#c4c4c4"/>
<circle cx="461.0" cy="1204.0" r="6.3" fill="#c4c4c4"/>
<circle cx="480.0" cy="1200.8" r="6.3" fill="#c4c4c4"/>
<circle cx="499.0" cy="1198.8" r="6.3" fill="#c4c4c4"/>
<circle cx="399.2" cy="1215.5" r="6.3" fill="#c4c4c4"/>
<circle cx="465.8" cy="1217.2" r="6.3" fill="#c4c4c4"/>
<circle cx="484.8" cy="1215.3" r="6.3" fill="#c4c4c4"/>
<circle cx="394.5" cy="1222.3" r="6.3" fill="#c4c4c4"/>
<circle cx="418.2" cy="1222.3" r="6.3" fill="#c4c4c4"/>
<circle cx="437.2" cy="1222.9" r="6.3" fill="#c4c4c4"/>
<circle cx="446.8" cy="1222.3" r="6.3" fill="#c4c4c4"/>
<circle cx="470.5" cy="1223.6" r="6.3" fill="#c4c4c4"/>
<circle cx="489.5" cy="1223.6" r="6.3" fill="#c4c4c4"/>
<circle cx="427.8" cy="1221.7" r="6.3" fill="#c4c4c4"/>
<circle cx="456.2" cy="1222.1" r="6.3" fill="#c4c4c4"/>
<circle cx="385.0" cy="1229.4" r="6.3" fill="#c4c4c4"/>
<circle cx="404.0" cy="1230.0" r="6.3" fill="#c4c4c4"/>
<circle cx="413.5" cy="1226.2" r="6.3" fill="#c4c4c4"/>
<circle cx="423.0" cy="1229.4" r="6.3" fill="#c4c4c4"/>
<circle cx="432.5" cy="1228.7" r="6.3" fill="#c4c4c4"/>
<circle cx="442.0" cy="1229.4" r="6.3" fill="#c4c4c4"/>
<circle cx="451.5" cy="1228.7" r="6.3" fill="#c4c4c4"/>
<circle cx="461.0" cy="1229.4" r="6.3" fill="#c4c4c4"/>
<circle cx="470.5" cy="1227.4" r="6.3" fill="#c4c4c4"/>
<circle cx="480.0" cy="1230.0" r="6.3" fill="#c4c4c4"/>
<circle cx="489.5" cy="1227.4" r="6.3" fill="#c4c4c4"/>
<circle cx="499.0" cy="1229.4" r="6.3" fill="#c4c4c4"/>
<circle cx="385.0" cy="1237.1" r="6.3" fill="#c4c4c4"/>
<circle cx="394.5" cy="1235.8" r="6.3" fill="#c4c4c4"/>
<circle cx="404.0" cy="1237.1" r="6.3" fill="#c4c4c4"/>
<circle cx="413.5" cy="1235.8" r="6.3" fill="#c4c4c4"/>
<circle cx="423.0" cy="1237.1" r="6.3" fill="#c4c4c4"/>
<circle cx="432.5" cy="1235.8" r="6.3" fill="#c4c4c4"/>
<circle cx="442.0" cy="1237.1" r="6.3" fill="#c4c4c4"/>
<circle cx="451.5" cy="1235.8" r="6.3" fill="#c4c4c4"/>
<circle cx="461.0" cy="1237.1" r="6.3" fill="#c4c4c4"/>
<circle cx="470.5" cy="1235.8" r="6.3" fill="#c4c4c4"/>
<circle cx="480.0" cy="1237.1" r="6.3" fill="#c4c4c4"/>
<circle cx="489.5" cy="1235.8" r="6.3" fill="#c4c4c4"/>
<circle cx="499.0" cy="1237.1" r="6.3" fill="#c4c4c4"/>
<circle cx="385.0" cy="1245.4" r="6.3" fill="#c4c4c4"/>
<circle cx="394.5" cy="1246.7" r="6.3" fill="#c4c4c4"/>
<circle cx="404.0" cy="1245.4" r="6.3" fill="#c4c4c4"/>
<circle cx="413.5" cy="1246.7" r="6.3" fill="#c4c4c4"/>
<circle cx="423.0" cy="1245.4" r="6.3" fill="#c4c4c4"/>
<circle cx="432.5" cy="1246.7" r="6.3" fill="#c4c4c4"/>
<circle cx="442.0" cy="1245.4" r="6.3" fill="#c4c4c4"/>
<circle cx="451.5" cy="1246.7" r="6.3" fill="#c4c4c4"/>
<circle cx="461.0" cy="1245.4" r="6.3" fill="#c4c4c4"/>
<circle cx="470.5" cy="1246.7" r="6.3" fill="#c4c4c4"/>
<circle cx="480.0" cy="1245.4" r="6.3" fill="#c4c4c4"/>
<circle cx="489.5" cy="1246.7" r="6.3" fill="#c4c4c4"/>
<circle cx="499.0" cy="1245.4" r="6.3" fill="#c4c4c4"/>
<circle cx="385.0" cy="1250.5" r="6.3" fill="#c4c4c4"/>
<circle cx="404.0" cy="1251.2" r="6.3" fill="#c4c4c4"/>
<circle cx="423.0" cy="1250.5" r="6.3" fill="#c4c4c4"/>
<circle cx="442.0" cy="1251.8" r="6.3" fill="#c4c4c4"/>
<circle cx="461.0" cy="1250.5" r="6.3" fill="#c4c4c4"/>
<circle cx="480.0" cy="1251.2" r="6.3" fill="#c4c4c4"/>
<circle cx="499.0" cy="1250.5" r="6.3" fill="#c4c4c4"/>
<circle cx="413.5" cy="1258.2" r="6.3" fill="#c4c4c4"/>
<circle cx="432.5" cy="1262.1" r="6.3" fill="#c4c4c4"/>
<circle cx="451.5" cy="1258.8" r="6.3" fill="#c4c4c4"/>
<circle cx="470.5" cy="1258.8" r="6.3" fill="#c4c4c4"/>
<circle cx="442.0" cy="1255.6" r="6.3" fill="#c4c4c4"/>
<circle cx="385.0" cy="1264.0" r="6.3" fill="#c4c4c4"/>
<circle cx="499.0" cy="1263.3" r="6.3" fill="#c4c4c4"/>
<circle cx="480.0" cy="1267.8" r="6.3" fill="#c4c4c4"/>
<circle cx="404.0" cy="1272.9" r="6.3" fill="#c4c4c4"/>
<circle cx="404.0" cy="1278.1" r="6.3" fill="#c4c4c4"/>
<circle cx="423.0" cy="1276.2" r="6.3" fill="#c4c4c4"/>
<circle cx="423.0" cy="1283.8" r="6.3" fill="#c4c4c4"/>
<circle cx="442.0" cy="1276.8" r="6.3" fill="#c4c4c4"/>
<circle cx="461.0" cy="1275.5" r="6.3" fill="#c4c4c4"/>
<circle cx="480.0" cy="1280.6" r="6.3" fill="#c4c4c4"/>
<circle cx="461.0" cy="1290.9" r="6.3" fill="#c4c4c4"/>
<circle cx="442.0" cy="1296.7" r="6.3" fill="#c4c4c4"/>
<circle cx="404.0" cy="1310.8" r="6.3" fill="#c4c4c4"/>
<circle cx="423.0" cy="1314.6" r="6.3" fill="#c4c4c4"/>
<circle cx="442.0" cy="1316.5" r="6.3" fill="#c4c4c4"/>
<circle cx="461.0" cy="1310.8" r="6.3" fill="#c4c4c4"/>
<circle cx="461.0" cy="1321.0" r="6.3" fill="#c4c4c4"/>
<circle cx="480.0" cy="1306.9" r="6.3" fill="#c4c4c4"/>
<circle cx="442.0" cy="1337.7" r="6.3" fill="#c4c4c4"/>
<circle cx="633.9" cy="1171.7" r="6.3" fill="#d4afb3"/>
<circle cx="652.7" cy="1180.2" r="6.3" fill="#d4afb3"/>
<circle cx="633.9" cy="1192.8" r="6.3" fill="#d4afb3"/>
<circle cx="671.7" cy="1193.3" r="6.3" fill="#d4afb3"/>
<circle cx="652.7" cy="1208.4" r="6.3" fill="#d4afb3"/>
<circle cx="610.2" cy="1210.9" r="6.3" fill="#d4afb3"/>
<circle cx="605.4" cy="1218.5" r="6.3" fill="#d4afb3"/>
<circle cx="628.9" cy="1214.5" r="6.3" fill="#d4afb3"/>
<circle cx="624.3" cy="1218.5" r="6.3" fill="#d4afb3"/>
<circle cx="648.0" cy="1215.5" r="6.3" fill="#d4afb3"/>
<circle cx="657.6" cy="1215.5" r="6.3" fill="#d4afb3"/>
<circle cx="676.2" cy="1211.4" r="6.3" fill="#d4afb3"/>
<circle cx="681.2" cy="1218.5" r="6.3" fill="#d4afb3"/>
<circle cx="700.1" cy="1216.5" r="6.3" fill="#d4afb3"/>
<circle cx="595.9" cy="1227.0" r="6.3" fill="#d4afb3"/>
<circle cx="709.5" cy="1226.0" r="6.3" fill="#d4afb3"/>
<circle cx="614.8" cy="1228.0" r="6.3" fill="#d4afb3"/>
<circle cx="610.2" cy="1234.6" r="6.3" fill="#d4afb3"/>
<circle cx="633.4" cy="1229.6" r="6.3" fill="#d4afb3"/>
<circle cx="628.9" cy="1236.6" r="6.3" fill="#d4afb3"/>
<circle cx="643.0" cy="1225.0" r="6.3" fill="#d4afb3"/>
<circle cx="652.7" cy="1230.1" r="6.3" fill="#d4afb3"/>
<circle cx="662.6" cy="1224.5" r="6.3" fill="#d4afb3"/>
<circle cx="671.7" cy="1228.0" r="6.3" fill="#d4afb3"/>
<circle cx="676.7" cy="1236.6" r="6.3" fill="#d4afb3"/>
<circle cx="690.6" cy="1227.0" r="6.3" fill="#d4afb3"/>
<circle cx="695.3" cy="1236.6" r="6.3" fill="#d4afb3"/>
<circle cx="605.4" cy="1241.6" r="6.3" fill="#d4afb3"/>
<circle cx="595.9" cy="1247.7" r="6.3" fill="#d4afb3"/>
<circle cx="614.8" cy="1245.7" r="6.3" fill="#d4afb3"/>
<circle cx="624.3" cy="1242.6" r="6.3" fill="#d4afb3"/>
<circle cx="633.4" cy="1246.2" r="6.3" fill="#d4afb3"/>
<circle cx="643.0" cy="1240.6" r="6.3" fill="#d4afb3"/>
<circle cx="652.7" cy="1240.6" r="6.3" fill="#d4afb3"/>
<circle cx="657.6" cy="1240.1" r="6.3" fill="#d4afb3"/>
<circle cx="662.2" cy="1243.7" r="6.3" fill="#d4afb3"/>
<circle cx="671.7" cy="1243.7" r="6.3" fill="#d4afb3"/>
<circle cx="681.1" cy="1242.6" r="6.3" fill="#d4afb3"/>
<circle cx="690.6" cy="1246.7" r="6.3" fill="#d4afb3"/>
<circle cx="700.1" cy="1241.6" r="6.3" fill="#d4afb3"/>
<circle cx="709.5" cy="1247.2" r="6.3" fill="#d4afb3"/>
<circle cx="591.1" cy="1257.8" r="6.3" fill="#d4afb3"/>
<circle cx="605.4" cy="1257.8" r="6.3" fill="#d4afb3"/>
<circle cx="614.9" cy="1256.7" r="6.3" fill="#d4afb3"/>
<circle cx="624.3" cy="1255.2" r="6.3" fill="#d4afb3"/>
<circle cx="633.8" cy="1255.7" r="6.3" fill="#d4afb3"/>
<circle cx="643.3" cy="1255.7" r="6.3" fill="#d4afb3"/>
<circle cx="652.7" cy="1254.7" r="6.3" fill="#d4afb3"/>
<circle cx="662.2" cy="1255.7" r="6.3" fill="#d4afb3"/>
<circle cx="671.7" cy="1256.7" r="6.3" fill="#d4afb3"/>
<circle cx="681.1" cy="1254.7" r="6.3" fill="#d4afb3"/>
<circle cx="690.6" cy="1256.7" r="6.3" fill="#d4afb3"/>
<circle cx="700.1" cy="1256.7" r="6.3" fill="#d4afb3"/>
<circle cx="714.5" cy="1257.8" r="6.3" fill="#d4afb3"/>
<circle cx="595.9" cy="1268.8" r="6.3" fill="#d4afb3"/>
<circle cx="605.4" cy="1273.9" r="6.3" fill="#d4afb3"/>
<circle cx="614.9" cy="1270.8" r="6.3" fill="#d4afb3"/>
<circle cx="624.3" cy="1276.9" r="6.3" fill="#d4afb3"/>
<circle cx="633.8" cy="1270.8" r="6.3" fill="#d4afb3"/>
<circle cx="643.3" cy="1266.8" r="6.3" fill="#d4afb3"/>
<circle cx="652.7" cy="1268.8" r="6.3" fill="#d4afb3"/>
<circle cx="662.2" cy="1270.8" r="6.3" fill="#d4afb3"/>
<circle cx="671.7" cy="1270.8" r="6.3" fill="#d4afb3"/>
<circle cx="681.1" cy="1268.8" r="6.3" fill="#d4afb3"/>
<circle cx="690.6" cy="1270.8" r="6.3" fill="#d4afb3"/>
<circle cx="700.1" cy="1276.9" r="6.3" fill="#d4afb3"/>
<circle cx="709.5" cy="1268.8" r="6.3" fill="#d4afb3"/>
<circle cx="595.9" cy="1283.9" r="6.3" fill="#d4afb3"/>
<circle cx="614.9" cy="1285.4" r="6.3" fill="#d4afb3"/>
<circle cx="633.8" cy="1289.5" r="6.3" fill="#d4afb3"/>
<circle cx="643.3" cy="1281.4" r="6.3" fill="#d4afb3"/>
<circle cx="652.7" cy="1291.5" r="6.3" fill="#d4afb3"/>
<circle cx="662.2" cy="1281.9" r="6.3" fill="#d4afb3"/>
<circle cx="671.7" cy="1291.5" r="6.3" fill="#d4afb3"/>
<circle cx="681.1" cy="1281.4" r="6.3" fill="#d4afb3"/>
<circle cx="690.6" cy="1287.0" r="6.3" fill="#d4afb3"/>
<circle cx="709.5" cy="1284.9" r="6.3" fill="#d4afb3"/>
<circle cx="595.9" cy="1297.0" r="6.3" fill="#d4afb3"/>
<circle cx="614.9" cy="1301.1" r="6.3" fill="#d4afb3"/>
<circle cx="690.6" cy="1298.0" r="6.3" fill="#d4afb3"/>
<circle cx="633.8" cy="1312.1" r="6.3" fill="#d4afb3"/>
<circle cx="652.7" cy="1316.2" r="6.3" fill="#d4afb3"/>
<circle cx="671.7" cy="1311.6" r="6.3" fill="#d4afb3"/>
<circle cx="652.7" cy="1354.4" r="6.3" fill="#d4afb3"/>
<circle cx="671.7" cy="1350.4" r="6.3" fill="#d4afb3"/>
<line x1="161.3" y1="1240.1" x2="301.0" y2="1240.1" stroke="#fc1a12" stroke-width="2.2" stroke-linecap="butt"/>
<line x1="231.2" y1="1235.4" x2="231.2" y2="1244.6" stroke="#fc1a12" stroke-width="2.2" stroke-linecap="butt"/>
<line x1="196.3" y1="1235.4" x2="265.8" y2="1235.4" stroke="#fc1a12" stroke-width="2.2" stroke-linecap="butt"/>
<line x1="196.3" y1="1244.6" x2="265.8" y2="1244.6" stroke="#fc1a12" stroke-width="2.2" stroke-linecap="butt"/>
<line x1="371.5" y1="1239.4" x2="511.9" y2="1239.4" stroke="#fc1a12" stroke-width="2.2" stroke-linecap="butt"/>
<line x1="442.0" y1="1234.9" x2="442.0" y2="1243.8" stroke="#fc1a12" stroke-width="2.2" stroke-linecap="butt"/>
<line x1="407.1" y1="1234.9" x2="477.0" y2="1234.9" stroke="#fc1a12" stroke-width="2.2" stroke-linecap="butt"/>
<line x1="407.1" y1="1243.8" x2="477.0" y2="1243.8" stroke="#fc1a12" stroke-width="2.2" stroke-linecap="butt"/>
<line x1="582.5" y1="1255.0" x2="722.8" y2="1255.0" stroke="#fc1a12" stroke-width="2.2" stroke-linecap="butt"/>
<line x1="652.7" y1="1251.5" x2="652.7" y2="1258.5" stroke="#fc1a12" stroke-width="2.2" stroke-linecap="butt"/>
<line x1="617.8" y1="1251.5" x2="687.8" y2="1251.5" stroke="#fc1a12" stroke-width="2.2" stroke-linecap="butt"/>
<line x1="617.8" y1="1258.5" x2="687.8" y2="1258.5" stroke="#fc1a12" stroke-width="2.2" stroke-linecap="butt"/>
<text x="437.1" y="976.3" font-size="28.6" text-anchor="middle" fill="#fc1a12" stroke="#fc1a12" stroke-width="0.4" >p=0.0365</text>
<line x1="217.0" y1="991.0" x2="659.9" y2="991.0" stroke="#000" stroke-width="3.5" stroke-linecap="butt"/>
<text x="330.2" y="1029.2" font-size="28.6" text-anchor="middle" fill="#000" stroke="#000" stroke-width="0.4" >p=0.9898</text>
<line x1="224.8" y1="1043.3" x2="437.6" y2="1043.3" stroke="#000" stroke-width="3.5" stroke-linecap="butt"/>
<text x="541.7" y="1051.1" font-size="28.6" text-anchor="middle" fill="#fc1a12" stroke="#fc1a12" stroke-width="0.4" >p=0.0231</text>
<line x1="437.6" y1="1065.2" x2="650.0" y2="1065.2" stroke="#000" stroke-width="3.5" stroke-linecap="butt"/>
<text x="244.6" y="1484.0" font-size="40" text-anchor="end" stroke="#000" stroke-width="0.5" transform="rotate(-45 244.6 1484.0)">SHAM</text>
<text x="458.6" y="1484.0" font-size="40" text-anchor="end" stroke="#000" stroke-width="0.5" transform="rotate(-45 458.6 1484.0)">VAPE</text>
<text x="667.8" y="1484.0" font-size="40" text-anchor="end" stroke="#000" stroke-width="0.5" transform="rotate(-45 667.8 1484.0)">VAPE NIC</text>
<text x="1217.5" y="834.0" font-size="56" text-anchor="middle" fill="#000" stroke="#000" stroke-width="0.5" >Total Resorptions</text>
<line x1="1053.8" y1="997.7" x2="1053.8" y2="1446.2" stroke="#000" stroke-width="4" stroke-linecap="butt"/>
<line x1="1036.0" y1="1444.4" x2="1053.8" y2="1444.4" stroke="#000" stroke-width="4" stroke-linecap="butt"/>
<text x="1028.5" y="1457.0" font-size="35" text-anchor="end" font-weight="bold" fill="#000" stroke="#000" stroke-width="0.4" >0</text>
<line x1="1036.0" y1="1296.1" x2="1053.8" y2="1296.1" stroke="#000" stroke-width="4" stroke-linecap="butt"/>
<text x="1028.5" y="1308.7" font-size="35" text-anchor="end" font-weight="bold" fill="#000" stroke="#000" stroke-width="0.4" >2</text>
<line x1="1036.0" y1="1147.8" x2="1053.8" y2="1147.8" stroke="#000" stroke-width="4" stroke-linecap="butt"/>
<text x="1028.5" y="1160.4" font-size="35" text-anchor="end" font-weight="bold" fill="#000" stroke="#000" stroke-width="0.4" >4</text>
<line x1="1036.0" y1="999.5" x2="1053.8" y2="999.5" stroke="#000" stroke-width="4" stroke-linecap="butt"/>
<text x="1028.5" y="1012.1" font-size="35" text-anchor="end" font-weight="bold" fill="#000" stroke="#000" stroke-width="0.4" >6</text>
<text x="953" y="1226" font-size="57" text-anchor="middle" stroke="#000" stroke-width="0.5" transform="rotate(-90 953 1226)">Total Resorption #</text>
<rect x="1084.1" y="1341.0" width="59.2" height="103.4" fill="#000"/>
<rect x="1176.8" y="1317.5" width="52.0" height="127.0" fill="#999999" stroke="#000" stroke-width="6.5"/>
<rect x="1265.8" y="1362.8" width="52.4" height="81.7" fill="#d4b0b3" stroke="#000" stroke-width="6.5"/>
<line x1="1036.0" y1="1444.4" x2="1350.9" y2="1444.4" stroke="#000" stroke-width="4.5" stroke-linecap="butt"/>
<line x1="1113.3" y1="1444.4" x2="1113.3" y2="1463.4" stroke="#000" stroke-width="4.5" stroke-linecap="butt"/>
<line x1="1202.8" y1="1444.4" x2="1202.8" y2="1463.4" stroke="#000" stroke-width="4.5" stroke-linecap="butt"/>
<line x1="1291.9" y1="1444.4" x2="1291.9" y2="1463.4" stroke="#000" stroke-width="4.5" stroke-linecap="butt"/>
<line x1="1113.3" y1="1313.3" x2="1113.3" y2="1367.5" stroke="#fc1a12" stroke-width="2.4" stroke-linecap="butt"/>
<line x1="1098.0" y1="1313.3" x2="1129.4" y2="1313.3" stroke="#fc1a12" stroke-width="2.4" stroke-linecap="butt"/>
<line x1="1202.8" y1="1303.3" x2="1202.8" y2="1337.5" stroke="#fc1a12" stroke-width="2.4" stroke-linecap="butt"/>
<line x1="1187.1" y1="1337.5" x2="1218.4" y2="1337.5" stroke="#fc1a12" stroke-width="2.4" stroke-linecap="butt"/>
<line x1="1291.9" y1="1326.3" x2="1291.9" y2="1391.6" stroke="#fc1a12" stroke-width="2.4" stroke-linecap="butt"/>
<line x1="1276.2" y1="1326.3" x2="1307.4" y2="1326.3" stroke="#fc1a12" stroke-width="2.4" stroke-linecap="butt"/>
<line x1="1276.2" y1="1391.6" x2="1307.4" y2="1391.6" stroke="#fc1a12" stroke-width="2.4" stroke-linecap="butt"/>
<circle cx="1113.8" cy="1147.8" r="6.4" fill="#fff" stroke="#000" stroke-width="1.6"/>
<circle cx="1098.0" cy="1296.1" r="6.4" fill="#fff" stroke="#000" stroke-width="1.6"/>
<circle cx="1113.3" cy="1296.1" r="6.4" fill="#fff" stroke="#000" stroke-width="1.6"/>
<circle cx="1128.6" cy="1296.1" r="6.4" fill="#fff" stroke="#000" stroke-width="1.6"/>
<circle cx="1090.0" cy="1370.2" r="6.4" fill="#fff" stroke="#000" stroke-width="1.6"/>
<circle cx="1105.6" cy="1370.2" r="6.4" fill="#fff" stroke="#000" stroke-width="1.6"/>
<circle cx="1121.0" cy="1370.2" r="6.4" fill="#fff" stroke="#000" stroke-width="1.6"/>
<circle cx="1136.6" cy="1370.2" r="6.4" fill="#fff" stroke="#000" stroke-width="1.6"/>
<circle cx="1105.6" cy="1444.4" r="6.4" fill="#fff" stroke="#000" stroke-width="1.6"/>
<circle cx="1121.0" cy="1444.4" r="6.4" fill="#fff" stroke="#000" stroke-width="1.6"/>
<circle cx="1194.3" cy="1147.8" r="6.4" fill="#999999" stroke="#000" stroke-width="1.6"/>
<circle cx="1202.3" cy="1147.8" r="6.4" fill="#999999" stroke="#000" stroke-width="1.6"/>
<circle cx="1210.3" cy="1147.8" r="6.4" fill="#999999" stroke="#000" stroke-width="1.6"/>
<circle cx="1202.9" cy="1222.0" r="6.4" fill="#999999" stroke="#000" stroke-width="1.6"/>
<circle cx="1190.3" cy="1296.1" r="6.4" fill="#999999" stroke="#000" stroke-width="1.6"/>
<circle cx="1198.4" cy="1296.1" r="6.4" fill="#999999" stroke="#000" stroke-width="1.6"/>
<circle cx="1206.4" cy="1296.1" r="6.4" fill="#999999" stroke="#000" stroke-width="1.6"/>
<circle cx="1214.1" cy="1296.1" r="6.4" fill="#999999" stroke="#000" stroke-width="1.6"/>
<circle cx="1179.9" cy="1370.2" r="6.4" fill="#999999" stroke="#000" stroke-width="1.6"/>
<circle cx="1187.1" cy="1370.2" r="6.4" fill="#999999" stroke="#000" stroke-width="1.6"/>
<circle cx="1194.8" cy="1370.2" r="6.4" fill="#999999" stroke="#000" stroke-width="1.6"/>
<circle cx="1202.8" cy="1370.2" r="6.4" fill="#999999" stroke="#000" stroke-width="1.6"/>
<circle cx="1210.4" cy="1370.2" r="6.4" fill="#999999" stroke="#000" stroke-width="1.6"/>
<circle cx="1217.9" cy="1370.2" r="6.4" fill="#999999" stroke="#000" stroke-width="1.6"/>
<circle cx="1225.6" cy="1370.2" r="6.4" fill="#999999" stroke="#000" stroke-width="1.6"/>
<circle cx="1199.2" cy="1444.4" r="6.4" fill="#999999" stroke="#000" stroke-width="1.6"/>
<circle cx="1206.4" cy="1444.4" r="6.4" fill="#999999" stroke="#000" stroke-width="1.6"/>
<circle cx="1292.4" cy="1073.7" r="6.4" fill="#d4b0b3" stroke="#000" stroke-width="1.6"/>
<circle cx="1291.5" cy="1222.0" r="6.4" fill="#d4b0b3" stroke="#000" stroke-width="1.6"/>
<circle cx="1284.2" cy="1296.1" r="6.4" fill="#d4b0b3" stroke="#000" stroke-width="1.6"/>
<circle cx="1299.4" cy="1296.1" r="6.4" fill="#d4b0b3" stroke="#000" stroke-width="1.6"/>
<circle cx="1291.9" cy="1296.1" r="6.4" fill="#d4b0b3" stroke="#000" stroke-width="1.6"/>
<circle cx="1291.9" cy="1370.2" r="6.4" fill="#d4b0b3" stroke="#000" stroke-width="1.6"/>
<circle cx="1269.0" cy="1444.4" r="6.4" fill="#d4b0b3" stroke="#000" stroke-width="1.6"/>
<circle cx="1276.5" cy="1444.4" r="6.4" fill="#d4b0b3" stroke="#000" stroke-width="1.6"/>
<circle cx="1284.2" cy="1444.4" r="6.4" fill="#d4b0b3" stroke="#000" stroke-width="1.6"/>
<circle cx="1291.9" cy="1444.4" r="6.4" fill="#d4b0b3" stroke="#000" stroke-width="1.6"/>
<circle cx="1299.4" cy="1444.4" r="6.4" fill="#d4b0b3" stroke="#000" stroke-width="1.6"/>
<circle cx="1307.4" cy="1444.4" r="6.4" fill="#d4b0b3" stroke="#000" stroke-width="1.6"/>
<circle cx="1314.7" cy="1444.4" r="6.4" fill="#d4b0b3" stroke="#000" stroke-width="1.6"/>
<text x="1198.2" y="981.7" font-size="28" text-anchor="middle" fill="#000" stroke="#000" stroke-width="0.4" >p=0.9042</text>
<line x1="1108.2" y1="996.7" x2="1291.0" y2="996.7" stroke="#000" stroke-width="3.8" stroke-linecap="butt"/>
<text x="1243.2" y="1034.1" font-size="28" text-anchor="middle" fill="#000" stroke="#000" stroke-width="0.4" >p=0.4533</text>
<line x1="1196.6" y1="1046.6" x2="1291.0" y2="1046.6" stroke="#000" stroke-width="3.8" stroke-linecap="butt"/>
<text x="1156.6" y="1097.6" font-size="28" text-anchor="middle" fill="#000" stroke="#000" stroke-width="0.4" >p=0.7826</text>
<line x1="1111.0" y1="1112.5" x2="1204.8" y2="1112.5" stroke="#000" stroke-width="3.8" stroke-linecap="butt"/>
<text x="1111.7" y="1500.5" font-size="40.5" text-anchor="end" stroke="#000" stroke-width="0.5" transform="rotate(-45 1111.7 1500.5)">SHAM</text>
<text x="1215.5" y="1500.5" font-size="40.5" text-anchor="end" stroke="#000" stroke-width="0.5" transform="rotate(-45 1215.5 1500.5)">VAPE</text>
<text x="1319.8" y="1499.1" font-size="40.5" text-anchor="end" stroke="#000" stroke-width="0.5" transform="rotate(-45 1319.8 1499.1)">VAPE NIC</text>
<rect x="1551.7" y="1522.9" width="34.1" height="40.8" fill="#000" stroke="#17262e" stroke-width="5.6"/>
<text x="1601.0" y="1554.5" font-size="32" text-anchor="start" fill="#000" stroke="#000" stroke-width="0.4" >SHAM</text>
<rect x="1551.7" y="1574.6" width="34.1" height="40.8" fill="#b3b3b5" stroke="#17262e" stroke-width="5.6"/>
<text x="1601.0" y="1606.2" font-size="32" text-anchor="start" fill="#000" stroke="#000" stroke-width="0.4" >VAPE</text>
<rect x="1551.7" y="1626.0" width="34.1" height="40.8" fill="#e5a8b3" stroke="#17262e" stroke-width="5.6"/>
<text x="1601.0" y="1657.6" font-size="32" text-anchor="start" fill="#000" stroke="#000" stroke-width="0.4" >VAPE NIC</text>
<text x="503.0" y="1728.5" font-size="56.3" text-anchor="middle" fill="#000" stroke="#000" stroke-width="0.5" >Resorption Distribution Across Exposure</text>
<text x="188.7" y="1830.0" font-size="50" text-anchor="middle" fill="#000" stroke="#000" stroke-width="0.5" >SHAM</text>
<text x="501.5" y="1830.0" font-size="50" text-anchor="middle" fill="#000" stroke="#000" stroke-width="0.5" >VAPE</text>
<text x="814.0" y="1830.0" font-size="50" text-anchor="middle" fill="#000" stroke="#000" stroke-width="0.5" >VAPE NIC</text>
<path d="M189.3,2025.5 L189.3,1887.8 A137.7,137.7 0 0 1 320.3,1982.9 Z" fill="#d9d9d9"/>
<path d="M189.3,2025.5 L320.3,1982.9 A137.7,137.7 0 0 1 108.4,2136.9 Z" fill="#eedad3"/>
<path d="M189.3,2025.5 L108.4,2136.9 A137.7,137.7 0 0 1 108.4,1914.1 Z" fill="#f45c77"/>
<path d="M189.3,2025.5 L108.4,1914.1 A137.7,137.7 0 0 1 189.3,1887.8 Z" fill="#c41d11"/>
<line x1="189.3" y1="2025.5" x2="189.3" y2="1886.8" stroke="#fff" stroke-width="4.6" stroke-linecap="round"/>
<line x1="189.3" y1="2025.5" x2="321.2" y2="1982.6" stroke="#fff" stroke-width="4.6" stroke-linecap="round"/>
<line x1="189.3" y1="2025.5" x2="107.8" y2="2137.7" stroke="#fff" stroke-width="4.6" stroke-linecap="round"/>
<line x1="189.3" y1="2025.5" x2="107.8" y2="1913.3" stroke="#fff" stroke-width="4.6" stroke-linecap="round"/>
<text x="252.5" y="1953.8" font-size="43" text-anchor="middle" fill="#000" stroke="#000" stroke-width="0.5" >2</text>
<text x="243.2" y="2111.8" font-size="43" text-anchor="middle" fill="#000" stroke="#000" stroke-width="0.5" >4</text>
<text x="92.6" y="2052.3" font-size="43" text-anchor="middle" fill="#000" stroke="#000" stroke-width="0.5" >3</text>
<text x="164.8" y="1948.9" font-size="43" text-anchor="middle" fill="#fff" stroke="#fff" stroke-width="0.5" >1</text>
<path d="M503.2,2025.5 L503.2,1888.0 A137.5,137.5 0 0 1 595.8,1923.9 Z" fill="#d9d9d9"/>
<path d="M503.2,2025.5 L595.8,1923.9 A137.5,137.5 0 0 1 477.9,2160.7 Z" fill="#eedad3"/>
<path d="M503.2,2025.5 L477.9,2160.7 A137.5,137.5 0 0 1 366.3,2012.8 Z" fill="#f45c77"/>
<path d="M503.2,2025.5 L366.3,2012.8 A137.5,137.5 0 0 1 503.2,1888.0 Z" fill="#c41d11"/>
<line x1="503.2" y1="2025.5" x2="503.2" y2="1887.0" stroke="#fff" stroke-width="4.6" stroke-linecap="round"/>
<line x1="503.2" y1="2025.5" x2="596.5" y2="1923.1" stroke="#fff" stroke-width="4.6" stroke-linecap="round"/>
<line x1="503.2" y1="2025.5" x2="477.8" y2="2161.6" stroke="#fff" stroke-width="4.6" stroke-linecap="round"/>
<line x1="503.2" y1="2025.5" x2="365.3" y2="2012.7" stroke="#fff" stroke-width="4.6" stroke-linecap="round"/>
<text x="549.3" y="1947.9" font-size="43" text-anchor="middle" fill="#000" stroke="#000" stroke-width="0.5" >2</text>
<text x="581.1" y="2083.6" font-size="43" text-anchor="middle" fill="#000" stroke="#000" stroke-width="0.5" >7</text>
<text x="428.6" y="2088.2" font-size="43" text-anchor="middle" fill="#000" stroke="#000" stroke-width="0.5" >4</text>
<text x="432.3" y="1960.8" font-size="43" text-anchor="middle" fill="#fff" stroke="#fff" stroke-width="0.5" >4</text>
<path d="M814.6,2025.8 L814.6,1888.2 A137.6,137.6 0 1 1 781.7,2159.4 Z" fill="#d9d9d9"/>
<path d="M814.6,2025.8 L781.7,2159.4 A137.6,137.6 0 0 1 723.4,2128.8 Z" fill="#eedad3"/>
<path d="M814.6,2025.8 L723.4,2128.8 A137.6,137.6 0 0 1 701.4,1947.6 Z" fill="#f45c77"/>
<path d="M814.6,2025.8 L701.4,1947.6 A137.6,137.6 0 0 1 814.6,1888.2 Z" fill="#c31c1f"/>
<line x1="814.6" y1="2025.8" x2="814.6" y2="1887.2" stroke="#fff" stroke-width="4.6" stroke-linecap="round"/>
<line x1="814.6" y1="2025.8" x2="781.4" y2="2160.4" stroke="#fff" stroke-width="4.6" stroke-linecap="round"/>
<line x1="814.6" y1="2025.8" x2="722.7" y2="2129.5" stroke="#fff" stroke-width="4.6" stroke-linecap="round"/>
<line x1="814.6" y1="2025.8" x2="700.5" y2="1947.1" stroke="#fff" stroke-width="4.6" stroke-linecap="round"/>
<text x="899.4" y="2047.8" font-size="43" text-anchor="middle" fill="#000" stroke="#000" stroke-width="0.5" >7</text>
<text x="769.8" y="2142.7" font-size="43" text-anchor="middle" fill="#000" stroke="#000" stroke-width="0.5" >1</text>
<text x="738.1" y="2037.5" font-size="43" text-anchor="middle" fill="#000" stroke="#000" stroke-width="0.5" >3</text>
<text x="787.1" y="1948.9" font-size="43" text-anchor="middle" fill="#fff" stroke="#fff" stroke-width="0.5" >2</text>
<text x="189.1" y="2244.0" font-size="42" text-anchor="middle" fill="#000" stroke="#000" stroke-width="0.5" >Total Uteri: 10</text>
<text x="503.0" y="2244.0" font-size="42" text-anchor="middle" fill="#000" stroke="#000" stroke-width="0.5" >Total Uteri: 17</text>
<text x="813.8" y="2244.0" font-size="42" text-anchor="middle" fill="#000" stroke="#000" stroke-width="0.5" >Total Uteri: 13</text>
<text x="1098.6" y="1783.1" font-size="42" text-anchor="middle" fill="#000" stroke="#000" stroke-width="0.5" >Resorption #</text>
<rect x="1002.4" y="1802.8" width="67.7" height="82.3" fill="#d9d9d9" stroke="#0e2530" stroke-width="5.4"/>
<text x="1106.5" y="1858.4" font-size="41" text-anchor="start" fill="#000" stroke="#000" stroke-width="0.5" >0</text>
<rect x="1002.4" y="1906.3" width="67.7" height="82.3" fill="#eedad3" stroke="#0e2530" stroke-width="5.4"/>
<text x="1106.5" y="1961.9" font-size="41" text-anchor="start" fill="#000" stroke="#000" stroke-width="0.5" >1</text>
<rect x="1002.4" y="2009.8" width="67.7" height="82.3" fill="#f45c77" stroke="#0e2530" stroke-width="5.4"/>
<text x="1106.5" y="2065.4" font-size="41" text-anchor="start" fill="#000" stroke="#000" stroke-width="0.5" >2</text>
<rect x="1002.4" y="2113.3" width="67.7" height="82.3" fill="#c41d11" stroke="#0e2530" stroke-width="5.4"/>
<text x="1107" y="2169.4" font-size="44" stroke="#000" stroke-width="0.45"><tspan font-size="50">&#8805;</tspan><tspan dx="1">3</tspan></text>
<line x1="1418.8" y1="1725.8" x2="1418.8" y2="2155.2" stroke="#000" stroke-width="4.5" stroke-linecap="butt"/>
<line x1="1402.9" y1="2153.0" x2="1702.2" y2="2153.0" stroke="#000" stroke-width="4.3" stroke-linecap="butt"/>
<line x1="1402.9" y1="2153.0" x2="1418.8" y2="2153.0" stroke="#000" stroke-width="4.0" stroke-linecap="butt"/>
<text x="1395.5" y="2165.3" font-size="34.5" text-anchor="end" font-weight="bold" fill="#000" stroke="#000" stroke-width="0.4" >0.0</text>
<line x1="1402.9" y1="1940.5" x2="1418.8" y2="1940.5" stroke="#000" stroke-width="4.0" stroke-linecap="butt"/>
<text x="1395.5" y="1952.8" font-size="34.5" text-anchor="end" font-weight="bold" fill="#000" stroke="#000" stroke-width="0.4" >0.5</text>
<line x1="1402.9" y1="1728.0" x2="1418.8" y2="1728.0" stroke="#000" stroke-width="4.0" stroke-linecap="butt"/>
<text x="1395.5" y="1740.3" font-size="34.5" text-anchor="end" font-weight="bold" fill="#000" stroke="#000" stroke-width="0.4" >1.0</text>
<line x1="1463.6" y1="2153.0" x2="1463.6" y2="2172.0" stroke="#000" stroke-width="4.3" stroke-linecap="butt"/>
<text x="1463.6" y="2206.8" font-size="34.5" text-anchor="middle" font-weight="bold" fill="#000" stroke="#000" stroke-width="0.4" >0</text>
<line x1="1528.6" y1="2153.0" x2="1528.6" y2="2172.0" stroke="#000" stroke-width="4.3" stroke-linecap="butt"/>
<text x="1528.6" y="2206.8" font-size="34.5" text-anchor="middle" font-weight="bold" fill="#000" stroke="#000" stroke-width="0.4" >1</text>
<line x1="1594.0" y1="2153.0" x2="1594.0" y2="2172.0" stroke="#000" stroke-width="4.3" stroke-linecap="butt"/>
<text x="1594.0" y="2206.8" font-size="34.5" text-anchor="middle" font-weight="bold" fill="#000" stroke="#000" stroke-width="0.4" >2</text>
<line x1="1659.6" y1="2153.0" x2="1659.6" y2="2172.0" stroke="#000" stroke-width="4.3" stroke-linecap="butt"/>
<text x="1659.6" y="2206.8" font-size="34.5" text-anchor="middle" font-weight="bold" fill="#000" stroke="#000" stroke-width="0.4" >&gt;=3</text>
<rect x="1441.9" y="1729.2" width="43.4" height="274.6" fill="#e5a8b3"/>
<rect x="1441.9" y="2003.8" width="43.4" height="73.1" fill="#959595"/>
<rect x="1441.9" y="2076.9" width="43.4" height="76.1" fill="#000"/>
<rect x="1441.9" y="1729.2" width="5.6" height="347.7" fill="#000"/>
<rect x="1479.7" y="1729.2" width="5.6" height="347.7" fill="#000"/>
<rect x="1441.9" y="1729.2" width="43.4" height="5.6" fill="#000"/>
<rect x="1441.9" y="2001.0" width="43.4" height="5.6" fill="#000"/>
<rect x="1506.9" y="1734.7" width="43.4" height="35.3" fill="#e5a8b3"/>
<rect x="1506.9" y="1770.1" width="43.4" height="242.7" fill="#959595"/>
<rect x="1506.9" y="2012.8" width="43.4" height="140.2" fill="#000"/>
<rect x="1506.9" y="1734.7" width="5.6" height="278.0" fill="#000"/>
<rect x="1544.7" y="1734.7" width="5.6" height="278.0" fill="#000"/>
<rect x="1506.9" y="1734.7" width="43.4" height="5.6" fill="#000"/>
<rect x="1506.9" y="1767.3" width="43.4" height="5.6" fill="#000"/>
<rect x="1572.3" y="1729.2" width="43.4" height="130.5" fill="#e5a8b3"/>
<rect x="1572.3" y="1859.8" width="43.4" height="166.6" fill="#959595"/>
<rect x="1572.3" y="2026.3" width="43.4" height="126.7" fill="#000"/>
<rect x="1572.3" y="1729.2" width="5.6" height="297.1" fill="#000"/>
<rect x="1610.1" y="1729.2" width="5.6" height="297.1" fill="#000"/>
<rect x="1572.3" y="1729.2" width="43.4" height="5.6" fill="#000"/>
<rect x="1572.3" y="1857.0" width="43.4" height="5.6" fill="#000"/>
<rect x="1637.9" y="1729.2" width="43.4" height="126.7" fill="#e5a8b3"/>
<rect x="1637.9" y="1855.9" width="43.4" height="237.8" fill="#959595"/>
<rect x="1637.9" y="2093.7" width="43.4" height="59.3" fill="#000"/>
<rect x="1637.9" y="1729.2" width="5.6" height="364.5" fill="#000"/>
<rect x="1675.7" y="1729.2" width="5.6" height="364.5" fill="#000"/>
<rect x="1637.9" y="1729.2" width="43.4" height="5.6" fill="#000"/>
<rect x="1637.9" y="1853.1" width="43.4" height="5.6" fill="#000"/>
<text x="1329.5" y="1941" font-size="34.5" text-anchor="middle" stroke="#000" stroke-width="0.4" transform="rotate(-90 1329.5 1941)">Resorption Incidence</text>
<text x="1561.3" y="2259.9" font-size="34" text-anchor="middle" fill="#000" stroke="#000" stroke-width="0.4" >Resorption # Observed</text>
</svg>
</body></html>
